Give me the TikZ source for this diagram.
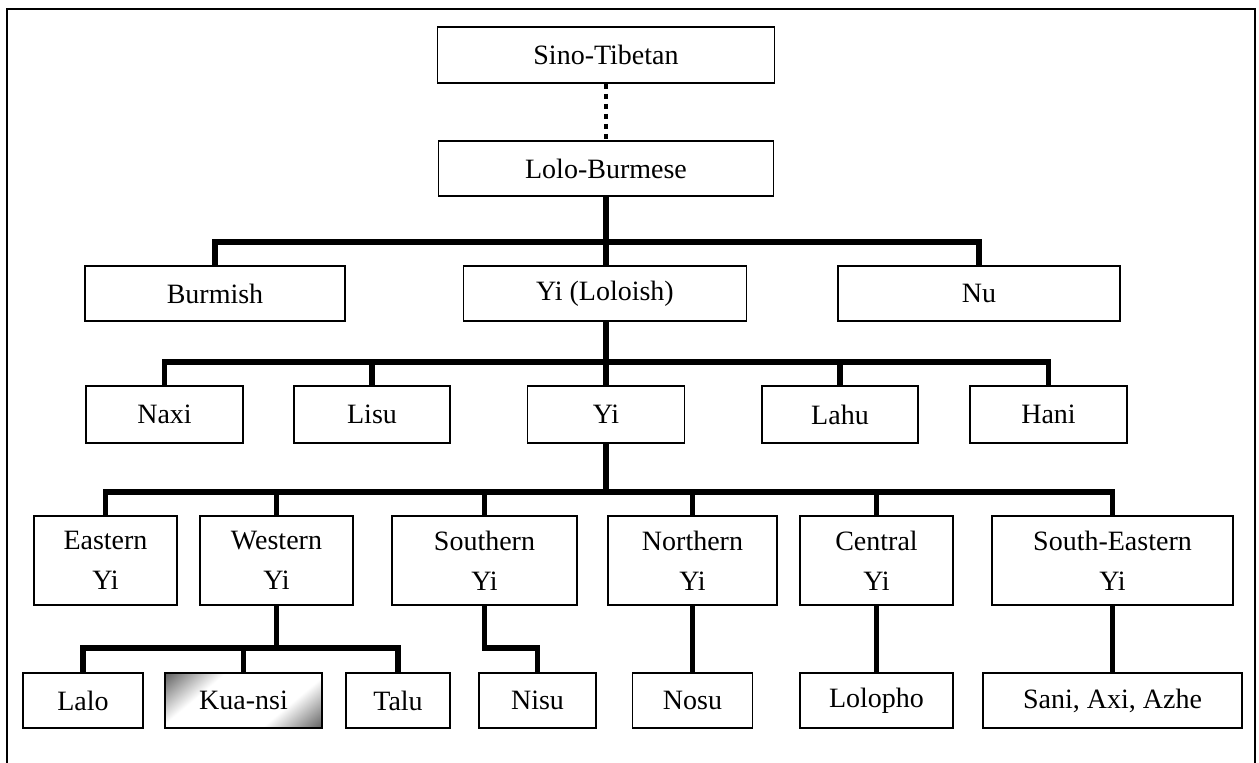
\documentclass[tikz,border=0pt]{standalone}
\usepackage{fontspec}
\setmainfont{Liberation Serif}
\usepackage{tikz}
\usetikzlibrary{shadings}

\pgfdeclareverticalshading{kuashade}{100bp}{color(0bp)=(black!65); color(14bp)=(black!65);
  color(34bp)=(white); color(66bp)=(white); color(86bp)=(black!65); color(100bp)=(black!65)}

\begin{document}
\begin{tikzpicture}[x=1pt, y=-1pt,
    lang/.style={draw, line width=1.5pt, rectangle, inner sep=0pt, align=center,
                 font=\fontsize{28}{40}\selectfont},
    branch/.style={line width=5.5pt},
    link/.style={line width=4.5pt, dash pattern=on 5pt off 5pt}]
	\useasboundingbox (0,0) rectangle (1259,763);
	\draw[line width=1.5pt] (7,763) -- (7,9) -- (1255,9) -- (1255,763);
	
	\node[lang, minimum width=337pt, minimum height=56pt] (sino) at (606,55) {Sino-Tibetan};
	\node[lang, minimum width=335pt, minimum height=55pt] (lolo) at (606,168.5) {Lolo-Burmese};
	
	\node[lang, minimum width=260pt, minimum height=55pt] (burmish) at (215,293.5) {Burmish};
	\node[lang, minimum width=283pt, minimum height=55pt] (loloish) at (605,293.5) {Yi (Loloish)};
	\node[lang, minimum width=282pt, minimum height=55pt] (nu) at (979,293.5) {Nu};
	
	\node[lang, minimum width=157pt, minimum height=57pt] (naxi) at (164.5,414.5) {Naxi};
	\node[lang, minimum width=156pt, minimum height=57pt] (lisu) at (372,414.5) {Lisu};
	\node[lang, minimum width=157pt, minimum height=57pt] (yi) at (606,414.5) {Yi};
	\node[lang, minimum width=156pt, minimum height=57pt] (lahu) at (840,414.5) {Lahu};
	\node[lang, minimum width=157pt, minimum height=57pt] (hani) at (1048.5,414.5) {Hani};
	
	\node[lang, minimum width=143pt, minimum height=89pt] (eastern) at (105.5,560.5) {Eastern\\Yi};
	\node[lang, minimum width=153pt, minimum height=89pt] (western) at (276.5,560.5) {Western\\Yi};
	\node[lang, minimum width=185pt, minimum height=89pt] (southern) at (484.5,560.5) {Southern\\Yi};
	\node[lang, minimum width=169pt, minimum height=89pt] (northern) at (692.5,560.5) {Northern\\Yi};
	\node[lang, minimum width=153pt, minimum height=89pt] (central) at (876.5,560.5) {Central\\Yi};
	\node[lang, minimum width=241pt, minimum height=89pt] (southeast) at (1112.5,560.5) {South-Eastern\\Yi};
	
	\node[lang, minimum width=120pt, minimum height=55pt] (lalo) at (83,700.5) {Lalo};
	\node[lang, minimum width=157pt, minimum height=55pt, shading=kuashade,
	      shading angle=40] (kuansi) at (243.5,700.5) {Kua-nsi};
	\node[lang, minimum width=104pt, minimum height=55pt] (talu) at (398,700.5) {Talu};
	\node[lang, minimum width=117pt, minimum height=55pt] (nisu) at (537.5,700.5) {Nisu};
	\node[lang, minimum width=120pt, minimum height=55pt] (nosu) at (692.5,700.5) {Nosu};
	\node[lang, minimum width=153pt, minimum height=55pt] (lolopho) at (876.5,700.5) {Lolopho};
	\node[lang, minimum width=259pt, minimum height=55pt] (sani) at (1112.5,700.5) {Sani, Axi, Azhe};
	
	\coordinate (j2) at (606,242);
	\coordinate (j3) at (606,362);
	\coordinate (j4) at (606,492);
	\coordinate (j5) at (276.5,648);
	
	\draw[link] (sino) -- (lolo);
	
	\draw[branch] (lolo) -- (j2);
	\draw[branch] (burmish.north) |- (j2) -| (nu.north);
	\draw[branch] (j2) -- (j2 |- loloish.north);
	
	\draw[branch] (loloish.south -| j3) -- (j3);
	\draw[branch] (naxi.north) |- (j3) -| (hani.north);
	\draw[branch] (lisu.north) -- (lisu.north |- j3);
	\draw[branch] (lahu.north) -- (lahu.north |- j3);
	\draw[branch] (j3) -- (yi.north);
	
	\draw[branch] (yi.south) -- (j4);
	\draw[branch] (eastern.north) |- (j4) -| (southeast.north);
	\draw[branch] (western.north) -- (western.north |- j4);
	\draw[branch] (southern.north) -- (southern.north |- j4);
	\draw[branch] (northern.north) -- (northern.north |- j4);
	\draw[branch] (central.north) -- (central.north |- j4);
	
	\draw[branch] (western.south) -- (j5);
	\draw[branch] (lalo.north) |- (j5) -| (talu.north);
	\draw[branch] (kuansi.north) -- (kuansi.north |- j5);
	\draw[branch] (southern.south) -- (southern.south |- j5) -| (nisu.north);
	\draw[branch] (northern) -- (nosu);
	\draw[branch] (central) -- (lolopho);
	\draw[branch] (southeast) -- (sani);
\end{tikzpicture}
\end{document}
